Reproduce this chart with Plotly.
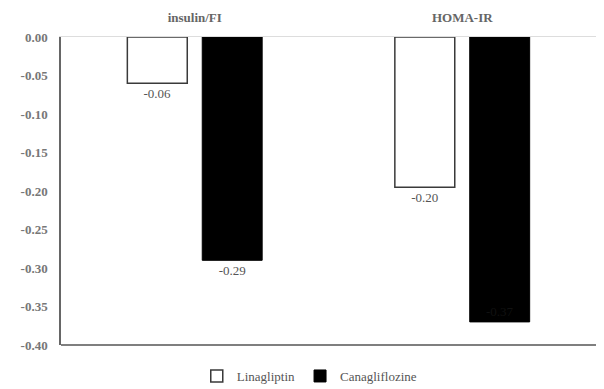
import plotly.graph_objects as go

categories = ["insulin/FI", "HOMA-IR"]
linagliptin = [-0.06, -0.195]
canagliflozine = [-0.29, -0.37]
lina_labels = ["-0.06", "-0.20"]
cana_labels = ["-0.29", "-0.37"]
y_tickvals = [0.0, -0.05, -0.10, -0.15, -0.20, -0.25, -0.30, -0.35, -0.40]
y_ticktext = ["0.00", "-0.05", "-0.10", "-0.15", "-0.20", "-0.25", "-0.30", "-0.35", "-0.40"]

serif = "Liberation Serif, Times New Roman, serif"

fig = go.Figure()
fig.add_trace(go.Bar(
    x=categories, y=linagliptin, name="Linagliptin",
    marker=dict(color="white", line=dict(color="#3a3a3a", width=1.5)),
    text=lina_labels, textposition="outside", cliponaxis=False,
    textfont=dict(family=serif, size=13, color="#555555"),
))
fig.add_trace(go.Bar(
    x=categories, y=canagliflozine, name="Canagliflozine",
    marker=dict(color="black", line=dict(color="black", width=1)),
    text=cana_labels, textposition=["outside", "inside"], insidetextanchor="end",
    cliponaxis=False,
    textfont=dict(family=serif, size=13, color=["#555555", "#111111"]),
))

# page body adds an 8px margin, so the figure is sized to fit the 604x389 window
fig.update_layout(
    width=596, height=381,
    margin=dict(l=53, r=8, t=29, b=44, autoexpand=False),
    paper_bgcolor="white", plot_bgcolor="white",
    barmode="group", bargap=0.44, bargroupgap=0.2,
    showlegend=True,
    legend=dict(orientation="h", x=0.465, xanchor="center", y=-0.052, yanchor="top",
                font=dict(family=serif, size=13, color="#555555"),
                itemwidth=30, tracegroupgap=0),
    font=dict(family=serif),
)
fig.update_xaxes(
    side="top", showline=True, linecolor="#dddddd", linewidth=1,
    ticks="", showgrid=False, automargin=False, ticklabelstandoff=9,
    tickfont=dict(family=serif, size=13, color="#666666", weight="bold"),
)
fig.update_yaxes(
    range=[-0.40, 0.0], tickvals=y_tickvals, ticktext=y_ticktext,
    showline=True, mirror=True, linecolor="#666666", linewidth=1.5,
    showgrid=False, zeroline=False, ticks="", automargin=False, ticklabelstandoff=9,
    tickfont=dict(family=serif, size=13, color="#777777", weight="bold"),
)
fig.add_shape(type="line", xref="paper", yref="paper", x0=0, x1=1, y0=0, y1=0,
              line=dict(color="#555555", width=1.5))

fig.write_html("out.html")
